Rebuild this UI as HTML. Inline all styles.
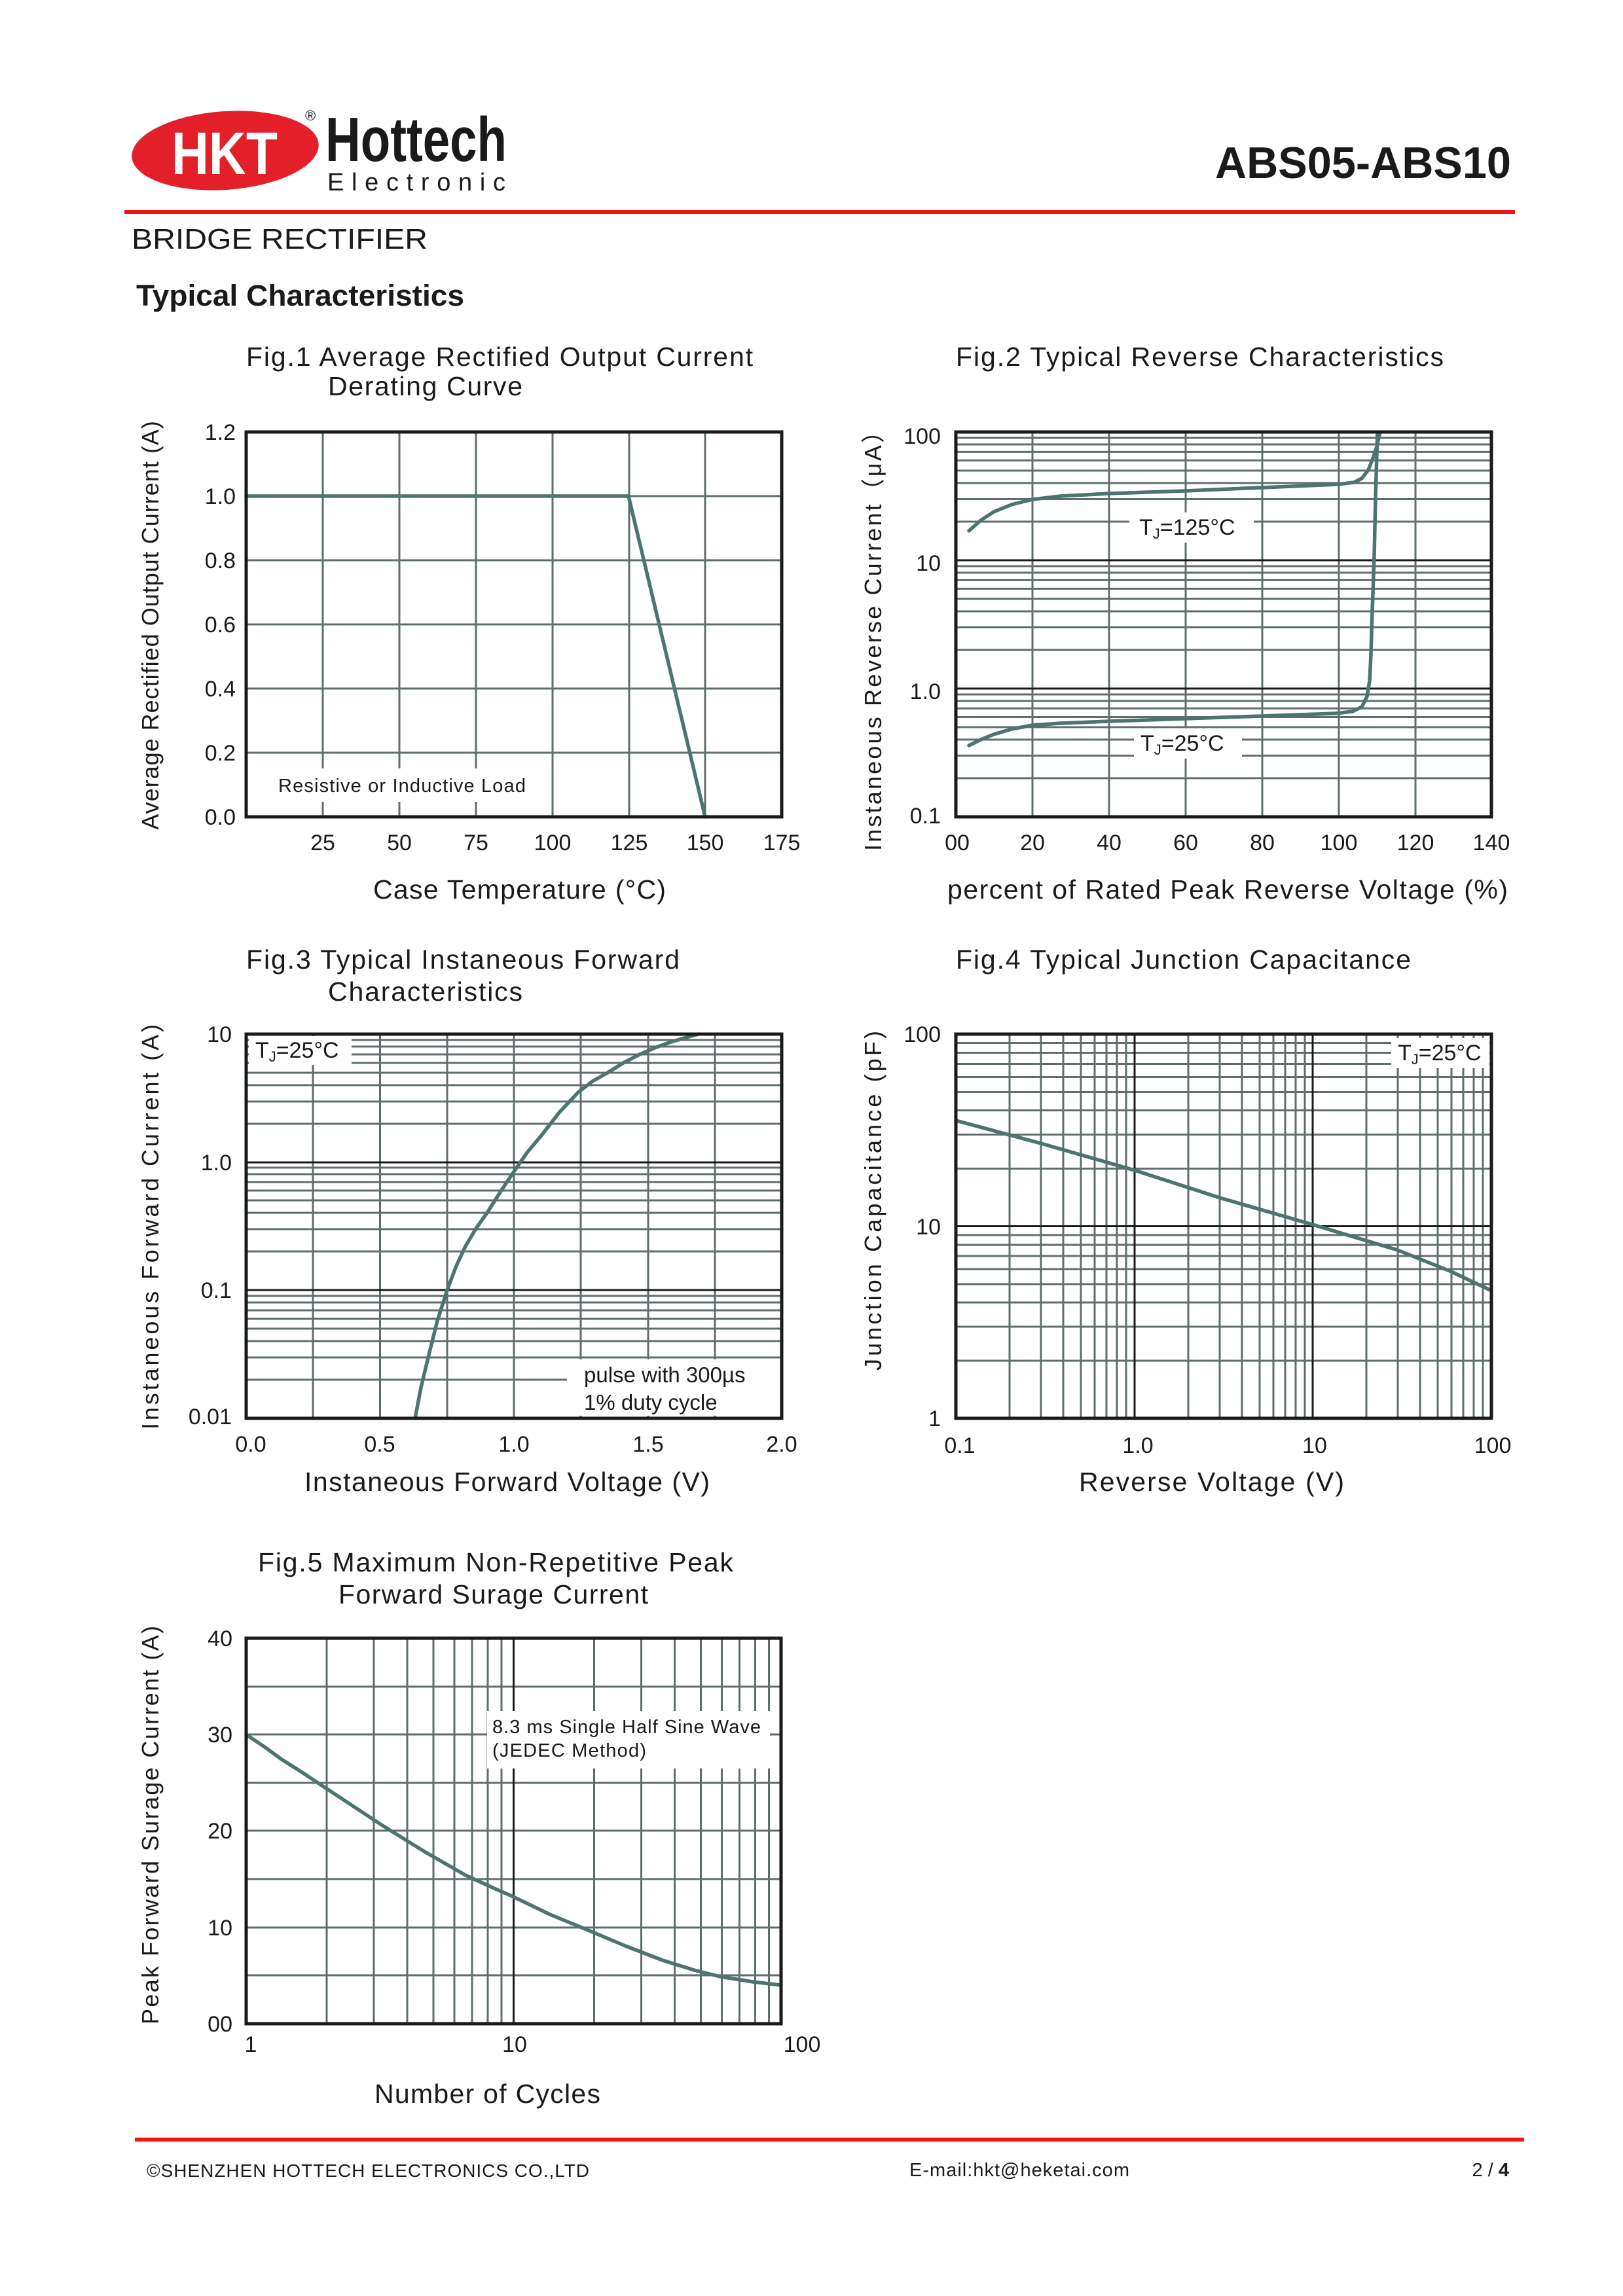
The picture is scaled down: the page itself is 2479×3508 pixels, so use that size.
<!DOCTYPE html>
<html><head><meta charset="utf-8"><style>
html,body{margin:0;padding:0;background:#fff}
svg{display:block}
text{font-family:"Liberation Sans",Arial,sans-serif;fill:#1a1a1a}
.g{stroke:#5f6e6c;stroke-width:3;fill:none}
.k{stroke:#1a1a1a;stroke-width:3;fill:none}
.f{stroke:#1a1a1a;stroke-width:5;fill:none}
.c{stroke:#4d7470;stroke-width:5.5;fill:none;stroke-linejoin:round;stroke-linecap:round}
.t{font-size:34px}
.ti{font-size:41px}
.ax{font-size:41px}
.ay{font-size:36px;letter-spacing:1px}
</style></head><body>
<svg width="2479" height="3508" viewBox="0 0 2479 3508" xmlns="http://www.w3.org/2000/svg">
<!-- header -->
<ellipse cx="344" cy="230" rx="143" ry="60" fill="#e3202a" transform="rotate(-4 344 230)"/>
<text x="262" y="266" font-size="92" font-weight="bold" style="fill:#fff" textLength="162" lengthAdjust="spacingAndGlyphs">HKT</text>
<text x="497" y="246" font-size="96" font-weight="bold" textLength="277" lengthAdjust="spacingAndGlyphs">Hottech</text>
<text x="466" y="184" font-size="22">®</text>
<text x="500" y="291" font-size="38" textLength="272" lengthAdjust="spacing">Electronic</text>
<text x="2308" y="272" font-size="68" font-weight="bold" text-anchor="end" textLength="452" lengthAdjust="spacingAndGlyphs">ABS05-ABS10</text>
<rect x="190" y="321" width="2124" height="6" fill="#f01414"/>
<text x="201" y="380" font-size="44" textLength="452" lengthAdjust="spacingAndGlyphs">BRIDGE RECTIFIER</text>
<text x="208" y="467" font-size="45" font-weight="bold" textLength="501" lengthAdjust="spacingAndGlyphs">Typical Characteristics</text>

<!-- titles -->
<text class="ti" x="376" y="559" textLength="774" lengthAdjust="spacing">Fig.1  Average Rectified Output Current</text>
<text class="ti" x="501" y="604" textLength="297" lengthAdjust="spacing">Derating Curve</text>
<text class="ti" x="1460" y="559" textLength="745" lengthAdjust="spacing">Fig.2  Typical Reverse Characteristics</text>
<text class="ti" x="376" y="1480" textLength="662" lengthAdjust="spacing">Fig.3  Typical Instaneous Forward</text>
<text class="ti" x="501" y="1529" textLength="297" lengthAdjust="spacing">Characteristics</text>
<text class="ti" x="1460" y="1480" textLength="695" lengthAdjust="spacing">Fig.4  Typical Junction Capacitance</text>
<text class="ti" x="394" y="2401" textLength="726" lengthAdjust="spacing">Fig.5  Maximum Non-Repetitive Peak</text>
<text class="ti" x="517" y="2450" textLength="473" lengthAdjust="spacing">Forward Surage Current</text>

<!-- FIG 1 -->
<g class="g">
<path d="M493 660V1248M610 660V1248M727 660V1248M844 660V1248M961 660V1248M1077 660V1248"/>
<path d="M376 758H1194M376 856H1194M376 954H1194M376 1052H1194M376 1150H1194"/>
</g>
<rect x="414" y="1174" width="396" height="51" fill="#fff"/>
<text x="425" y="1210" font-size="29" textLength="378" lengthAdjust="spacing">Resistive or Inductive Load</text>
<polyline class="c" points="376,758 960,758 1077,1248"/>
<rect class="f" x="376" y="660" width="818" height="588"/>
<g class="t" text-anchor="end">
<text x="360" y="672">1.2</text><text x="360" y="770">1.0</text><text x="360" y="868">0.8</text>
<text x="360" y="966">0.6</text><text x="360" y="1064">0.4</text><text x="360" y="1162">0.2</text><text x="360" y="1260">0.0</text>
</g>
<g class="t" text-anchor="middle">
<text x="493" y="1299">25</text><text x="610" y="1299">50</text><text x="727" y="1299">75</text>
<text x="844" y="1299">100</text><text x="961" y="1299">125</text><text x="1077" y="1299">150</text><text x="1194" y="1299">175</text>
</g>
<text class="ax" x="570" y="1373" textLength="447" lengthAdjust="spacing">Case Temperature (°C)</text>
<text class="ay" transform="translate(242 955) rotate(-90)" text-anchor="middle">Average Rectified Output Current (A)</text>

<!-- FIG 2 -->
<g class="g">
<path d="M1577 660V1248M1694 660V1248M1811 660V1248M1928 660V1248M2045 660V1248M2162 660V1248"/>
<path d="M1460 1189H2278M1460 1154.5H2278M1460 1130H2278M1460 1111H2278M1460 1095.5H2278M1460 1082.4H2278M1460 1071H2278M1460 1061H2278"/>
<path d="M1460 993H2278M1460 958.5H2278M1460 934H2278M1460 915H2278M1460 899.5H2278M1460 886.4H2278M1460 875H2278M1460 865H2278"/>
<path d="M1460 797H2278M1460 762.5H2278M1460 738H2278M1460 719H2278M1460 703.5H2278M1460 690.4H2278M1460 679H2278M1460 669H2278"/>
</g>
<path class="k" d="M1460 856H2278M1460 1052H2278"/>
<rect x="1725" y="783" width="190" height="46" fill="#fff"/>
<text x="1740" y="817" font-size="34">T<tspan font-size="22" dy="6">J</tspan><tspan dy="-6">=125°C</tspan></text>
<rect x="1732" y="1113" width="165" height="46" fill="#fff"/>
<text x="1742" y="1147" font-size="34">T<tspan font-size="22" dy="6">J</tspan><tspan dy="-6">=25°C</tspan></text>
<polyline class="c" points="1480,811 1498,795 1518,782 1545,771 1577,763 1620,758 1694,754 1811,750 1927,745 2044,740 2068,737 2080,731 2090,718 2097,700 2103,682 2108,660"/>
<polyline class="c" points="1480,1139 1498,1130 1518,1122 1545,1114 1577,1108 1620,1105 1694,1102 1811,1098 1927,1094 2040,1090 2066,1087 2080,1080 2088,1064 2092,1040 2094,1000 2096,934 2099,850 2101,760 2104,660"/>
<rect class="f" x="1460" y="660" width="818" height="588"/>
<g class="t" text-anchor="end">
<text x="1437" y="678">100</text><text x="1437" y="872">10</text><text x="1437" y="1068">1.0</text><text x="1437" y="1258">0.1</text>
</g>
<g class="t" text-anchor="middle">
<text x="1462" y="1299">00</text><text x="1577" y="1299">20</text><text x="1694" y="1299">40</text><text x="1811" y="1299">60</text>
<text x="1928" y="1299">80</text><text x="2045" y="1299">100</text><text x="2162" y="1299">120</text><text x="2278" y="1299">140</text>
</g>
<text class="ax" x="1447" y="1373" textLength="856" lengthAdjust="spacing">percent of Rated  Peak Reverse Voltage (%)</text>
<text class="ay" transform="translate(1346 970) rotate(-90)" text-anchor="middle" textLength="660" lengthAdjust="spacing">Instaneous Reverse Current（μA）</text>

<!-- FIG 3 -->
<g class="g">
<path d="M478 1580V2167M580.5 1580V2167M683 1580V2167M785 1580V2167M887 1580V2167M990 1580V2167M1092 1580V2167"/>
<path d="M376 2108H1194M376 2074H1194M376 2049H1194M376 2030H1194M376 2015H1194M376 2002H1194M376 1990H1194M376 1980H1194"/>
<path d="M376 1912H1194M376 1878H1194M376 1853H1194M376 1834H1194M376 1819H1194M376 1806H1194M376 1794H1194M376 1784H1194"/>
<path d="M376 1717H1194M376 1683H1194M376 1658H1194M376 1639H1194M376 1624H1194M376 1611H1194M376 1599H1194M376 1589H1194"/>
</g>
<path class="k" d="M376 1776H1194M376 1971H1194"/>
<rect x="380" y="1583" width="157" height="44" fill="#fff"/>
<text x="390" y="1616" font-size="34">T<tspan font-size="22" dy="6">J</tspan><tspan dy="-6">=25°C</tspan></text>
<rect x="866" y="2077" width="328" height="86" fill="#fff"/>
<text x="892" y="2112" font-size="33">pulse with 300µs</text>
<text x="892" y="2154" font-size="33">1% duty cycle</text>
<polyline class="c" points="634,2167 643,2120 654,2074 668,2018 683,1971 697,1934 711,1904 727,1877 744,1853 765,1820 785,1790 805,1761 826,1736 854,1700 883,1669 905,1652 928,1639 952,1624 977,1611 1000,1601 1022,1593 1045,1586 1067,1580"/>
<rect class="f" x="376" y="1580" width="818" height="587"/>
<g class="t" text-anchor="end">
<text x="354" y="1592">10</text><text x="354" y="1788">1.0</text><text x="354" y="1983">0.1</text><text x="354" y="2176">0.01</text>
</g>
<g class="t" text-anchor="middle">
<text x="383" y="2218">0.0</text><text x="580" y="2218">0.5</text><text x="785" y="2218">1.0</text><text x="990" y="2218">1.5</text><text x="1194" y="2218">2.0</text>
</g>
<text class="ax" x="465" y="2278" textLength="619" lengthAdjust="spacing">Instaneous Forward Voltage (V)</text>
<text class="ay" transform="translate(242 1874) rotate(-90)" text-anchor="middle" textLength="620" lengthAdjust="spacing">Instaneous Forward Current (A)</text>

<!-- FIG 4 -->
<g class="g">
<path d="M1542 1580V2167M1590 1580V2167M1624 1580V2167M1651 1580V2167M1672 1580V2167M1690 1580V2167M1706 1580V2167M1720 1580V2167"/>
<path d="M1815 1580V2167M1863 1580V2167M1897 1580V2167M1924 1580V2167M1945 1580V2167M1963 1580V2167M1979 1580V2167M1993 1580V2167"/>
<path d="M2087 1580V2167M2135 1580V2167M2169 1580V2167M2196 1580V2167M2217 1580V2167M2235 1580V2167M2251 1580V2167M2265 1580V2167"/>
<path d="M1460 2079H2278M1460 2027H2278M1460 1990H2278M1460 1962H2278M1460 1939H2278M1460 1919H2278M1460 1902H2278M1460 1887H2278"/>
<path d="M1460 1785.5H2278M1460 1733.5H2278M1460 1696.5H2278M1460 1668.5H2278M1460 1645.5H2278M1460 1625.5H2278M1460 1608.5H2278M1460 1593.5H2278"/>
</g>
<path class="k" d="M1733 1580V2167M2005 1580V2167M1460 1873.5H2278"/>
<rect x="2125" y="1586" width="150" height="46" fill="#fff"/>
<text x="2135" y="1620" font-size="34">T<tspan font-size="22" dy="6">J</tspan><tspan dy="-6">=25°C</tspan></text>
<polyline class="c" points="1460,1712 1590,1747 1733,1788 1863,1830 2005,1871 2135,1910 2217,1943 2278,1972"/>
<rect class="f" x="1460" y="1580" width="818" height="587"/>
<g class="t" text-anchor="end">
<text x="1437" y="1592">100</text><text x="1437" y="1886">10</text><text x="1437" y="2179">1</text>
</g>
<g class="t" text-anchor="middle">
<text x="1466" y="2220">0.1</text><text x="1738" y="2220">1.0</text><text x="2008" y="2220">10</text><text x="2280" y="2220">100</text>
</g>
<text class="ax" x="1648" y="2278" textLength="405" lengthAdjust="spacing">Reverse  Voltage (V)</text>
<text class="ay" transform="translate(1346 1834) rotate(-90)" text-anchor="middle" textLength="520" lengthAdjust="spacing">Junction Capacitance (pF)</text>

<!-- FIG 5 -->
<g class="g">
<path d="M499 2503V3092M571 2503V3092M622 2503V3092M662 2503V3092M694 2503V3092M721 2503V3092M745 2503V3092M766 2503V3092"/>
<path d="M907.5 2503V3092M979.5 2503V3092M1030.5 2503V3092M1070.5 2503V3092M1102.5 2503V3092M1129.5 2503V3092M1153.5 2503V3092M1174.5 2503V3092"/>
<path d="M376 2577H1193M376 2650H1193M376 2724H1193M376 2797H1193M376 2871H1193M376 2945H1193M376 3018H1193"/>
</g>
<path class="k" d="M784.5 2503V3092"/>
<rect x="744" y="2614" width="432" height="88" fill="#fff"/>
<text x="752" y="2648" font-size="29" textLength="410" lengthAdjust="spacing">8.3 ms Single Half Sine Wave</text>
<text x="752" y="2684" font-size="29" textLength="235" lengthAdjust="spacing">(JEDEC Method)</text>
<polyline class="c" points="376,2650 404,2669 430,2688 460,2707 490,2727 537,2758 584,2789 650,2830 711,2865 750,2883 784,2898 840,2925 898,2949 955,2973 1012,2995 1060,3010 1100,3020 1150,3028 1193,3033"/>
<rect class="f" x="376" y="2503" width="817" height="589"/>
<g class="t" text-anchor="end">
<text x="355" y="2515">40</text><text x="355" y="2662">30</text><text x="355" y="2809">20</text><text x="355" y="2957">10</text><text x="355" y="3104">00</text>
</g>
<g class="t" text-anchor="middle">
<text x="383" y="3135">1</text><text x="786" y="3135">10</text><text x="1225" y="3135">100</text>
</g>
<text class="ax" x="572" y="3213" textLength="345" lengthAdjust="spacing">Number of Cycles</text>
<text class="ay" transform="translate(242 2788) rotate(-90)" text-anchor="middle" textLength="610" lengthAdjust="spacing">Peak Forward Surage Current (A)</text>

<!-- footer -->
<rect x="206" y="3266" width="2122" height="6" fill="#f01414"/>
<text x="224" y="3326" font-size="28" textLength="676" lengthAdjust="spacing">©SHENZHEN HOTTECH ELECTRONICS CO.,LTD</text>
<text x="1389" y="3325" font-size="29" textLength="336" lengthAdjust="spacing">E-mail:hkt@heketai.com</text>
<text x="2305" y="3325" font-size="29" text-anchor="end">2 / <tspan font-weight="bold">4</tspan></text>
</svg>
</body></html>
